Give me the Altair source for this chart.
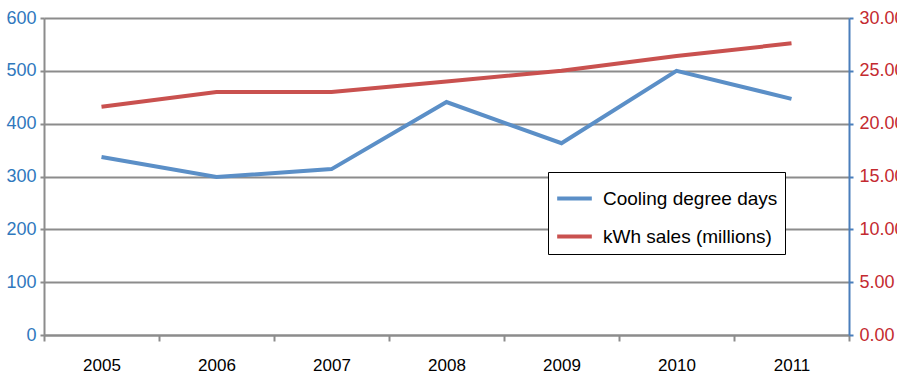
import altair as alt
import pandas as pd

years = ["2005", "2006", "2007", "2008", "2009", "2010", "2011"]
cooling = [337, 299, 314, 441, 363, 500, 447]
kwh = [21.6, 23.0, 23.0, 24.0, 25.0, 26.4, 27.6]
series = ["Cooling degree days", "kWh sales (millions)"]

df = pd.DataFrame({
    "year": years * 2,
    "series": [series[0]] * len(years) + [series[1]] * len(years),
    "value": cooling + kwh,
})

FONT = "Liberation Sans Narrow, Liberation Sans, Arial"
GRID = "#8c8c8c"

color = alt.Color(
    "series:N",
    scale=alt.Scale(domain=series, range=["#5b8fc7", "#c9514f"]),
    legend=alt.Legend(
        title=None, orient="none", legendX=504, legendY=154,
        symbolType="stroke", symbolStrokeWidth=4, symbolSize=1200,
        labelFontSize=19, labelFont="Liberation Sans", labelColor="#000000",
        fillColor="white", strokeColor="#000000", padding=7,
        rowPadding=8, labelLimit=300, labelOffset=9,
    ),
)

x = alt.X(
    "year:N", sort=years, title=None,
    scale=alt.Scale(paddingInner=0, paddingOuter=0),
    axis=alt.Axis(
        labelAngle=0, labelFontSize=17, labelFont=FONT, labelColor="#000000",
        tickBand="extent", tickColor=GRID, tickSize=6, tickWidth=2,
        domainColor=GRID, domainWidth=2, labelPadding=16, grid=False,
    ),
)

left = alt.Chart(df).transform_filter(alt.datum.series == series[0]).mark_line(
    strokeWidth=4
).encode(
    x=x,
    y=alt.Y(
        "value:Q", title=None,
        scale=alt.Scale(domain=[0, 600], nice=False),
        axis=alt.Axis(
            values=[0, 100, 200, 300, 400, 500, 600], labelFontSize=18, labelFont=FONT,
            labelColor="#2f78bd", domainColor=GRID, domainWidth=2, tickColor=GRID,
            tickSize=4, tickWidth=2, gridColor=GRID, gridWidth=2, labelPadding=4,
        ),
    ),
    color=color,
)

right = alt.Chart(df).transform_filter(alt.datum.series == series[1]).mark_line(
    strokeWidth=4
).encode(
    x=x,
    y=alt.Y(
        "value:Q", title=None,
        scale=alt.Scale(domain=[0, 30], nice=False),
        axis=alt.Axis(
            orient="right", values=[0, 5, 10, 15, 20, 25, 30], format=".2f",
            labelFontSize=18, labelFont=FONT, labelColor="#c42a30",
            domainColor="#4a7ebb", domainWidth=2, tickColor="#4a7ebb",
            tickSize=4, tickWidth=2, grid=False, labelPadding=6,
        ),
    ),
    color=color,
)

chart = alt.layer(left, right).resolve_scale(y="independent").properties(
    width=805, height=317,
    autosize=alt.AutoSizeParams(type="none"),
    padding={"left": 44, "top": 18, "right": 48, "bottom": 39},
).configure_view(stroke=None).configure(background="white")

chart.save("out.html", embed_options={"renderer": "svg", "actions": False})
